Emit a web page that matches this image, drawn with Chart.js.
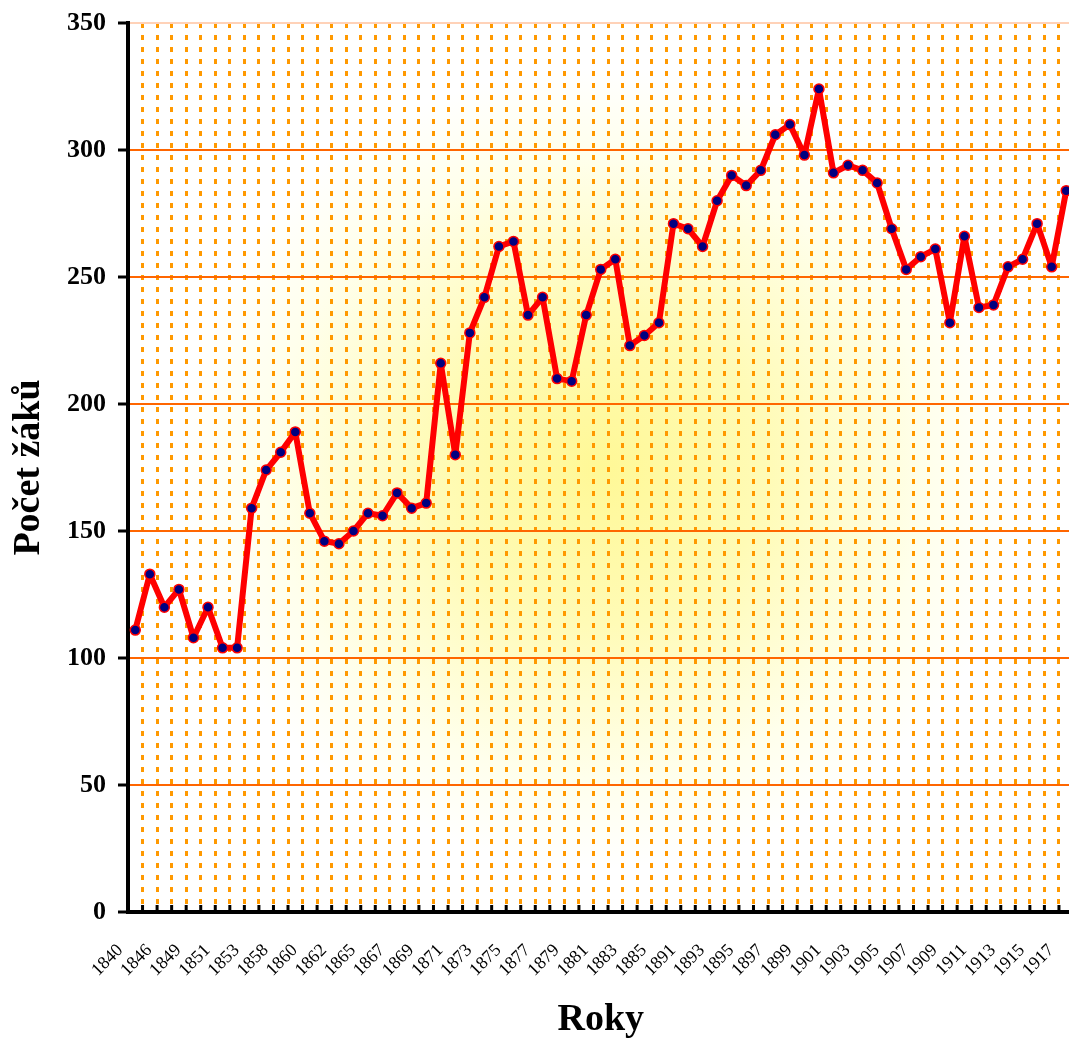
<!DOCTYPE html>
<html>
<head>
<meta charset="utf-8">
<script src="https://cdn.jsdelivr.net/npm/chart.js@4.4.1/dist/chart.umd.min.js"></script>
<style>
  html, body { margin: 0; padding: 0; background: #fff; overflow: hidden; }
  #wrap { width: 1069px; height: 1041px; overflow: hidden; }
</style>
</head>
<body>
<div id="wrap"><canvas id="chart" width="1080" height="1041"></canvas></div>
<script>
// school years (only every other one is labelled on the axis)
const years = [
  "1840", "1845", "1846", "1848", "1849", "1850", "1851", "1852", "1853", "1857",
  "1858", "1859", "1860", "1861", "1862", "1864", "1865", "1866", "1867", "1868",
  "1869", "1870", "1871", "1872", "1873", "1874", "1875", "1876", "1877", "1878",
  "1879", "1880", "1881", "1882", "1883", "1884", "1885", "1890", "1891", "1892",
  "1893", "1894", "1895", "1896", "1897", "1898", "1899", "1900", "1901", "1902",
  "1903", "1904", "1905", "1906", "1907", "1908", "1909", "1910", "1911", "1912",
  "1913", "1914", "1915", "1916", "1917",
];

// number of pupils
const pupils = [
  111, 133, 120, 127, 108, 120, 104, 104, 159, 174,
  181, 189, 157, 146, 145, 150, 157, 156, 165, 159,
  161, 216, 180, 228, 242, 262, 264, 235, 242, 210,
  209, 235, 253, 257, 223, 227, 232, 271, 269, 262,
  280, 290, 286, 292, 306, 310, 298, 324, 291, 294,
  292, 287, 269, 253, 258, 261, 232, 266, 238, 239,
  254, 257, 271, 254, 284,
];

const Y_MIN = 0;
const Y_MAX = 350;
const Y_STEP = 50;

const SERIF = "'Liberation Serif', 'Times New Roman', serif";

const plotBackground = {
  id: "plotBackground",
  beforeDraw(chart) {
    const { ctx, chartArea: a } = chart;
    ctx.save();
    ctx.beginPath();
    ctx.rect(a.left, a.top, a.width, a.height);
    ctx.clip();
    ctx.fillStyle = "#fff";
    ctx.fillRect(a.left, a.top, a.width, a.height);
    ctx.translate((a.left + a.right) / 2, (a.top + a.bottom) / 2);
    ctx.scale(a.width / 2, a.height / 2);
    const g = ctx.createRadialGradient(0, 0, 0, 0, 0, 1);
    g.addColorStop(0, "#FFF896");
    g.addColorStop(0.35, "#FFFBB6");
    g.addColorStop(0.7, "#FFFFEC");
    g.addColorStop(0.9, "#FFFFFF");
    ctx.fillStyle = g;
    ctx.fillRect(-1, -1, 2, 2);
    ctx.restore();
  },
};

// small black tick marks inside the plot, on the category boundaries
const innerTicks = {
  id: "innerTicks",
  afterDraw(chart) {
    const { ctx } = chart;
    const xs = chart.scales.x;
    const n = years.length;
    ctx.save();
    ctx.strokeStyle = "#000";
    ctx.lineWidth = 3;
    ctx.beginPath();
    for (let i = 0; i <= n; i++) {
      const px = xs.left + (i * xs.width) / n;
      ctx.moveTo(px, xs.top - 7);
      ctx.lineTo(px, xs.top);
    }
    ctx.stroke();
    ctx.restore();
  },
};

new Chart(document.getElementById("chart").getContext("2d"), {
  type: "line",
  data: {
    labels: years,
    datasets: [{
      label: "Počet žáků",
      data: pupils,
      borderColor: "#FF0000",
      borderWidth: 6,
      borderJoinStyle: "round",
      borderCapStyle: "round",
      tension: 0,
      fill: false,
      pointRadius: 5,
      pointBorderWidth: 1.5,
      pointBorderColor: "#FF0000",
      pointBackgroundColor: "#000080",
    }],
  },
  options: {
    responsive: false,
    animation: false,
    devicePixelRatio: 1,
    layout: { padding: { top: 23, right: 6, bottom: 0, left: 0 } },
    plugins: {
      legend: { display: false },
      tooltip: { enabled: false },
    },
    scales: {
      x: {
        offset: true,
        grid: {
          offset: true,
          color: "#FF9900",
          lineWidth: 3,
          drawTicks: false,
        },
        border: { display: true, color: "#000", width: 4, dash: [5, 7] },
        ticks: {
          autoSkip: false,
          minRotation: 45,
          maxRotation: 45,
          padding: 28,
          labelOffset: -15,
          color: "#000",
          font: { family: SERIF, size: 18 },
          callback(value, index) {
            return index % 2 === 0 ? years[index] : "";
          },
        },
        title: {
          display: true,
          text: "Roky",
          color: "#000",
          padding: 0,
          font: { family: SERIF, size: 38, weight: "bold", lineHeight: 1.1 },
        },
        afterFit(scale) {
          scale.height = 129;
          scale.paddingLeft = 0;
          scale.paddingRight = 0;
        },
      },
      y: {
        min: Y_MIN,
        max: Y_MAX,
        grid: {
          color: (ctx) => (ctx.tick && ctx.tick.value === Y_MAX ? "#FFD2B8" : "#FF6600"),
          lineWidth: 2,
          tickLength: 10,
          tickColor: "#000",
          tickWidth: 3,
        },
        border: { display: true, color: "#000", width: 4 },
        ticks: {
          stepSize: Y_STEP,
          padding: 12,
          color: "#000",
          font: { family: SERIF, size: 26, weight: "bold" },
        },
        title: {
          display: true,
          text: "Počet žáků",
          color: "#000",
          padding: { top: 8, bottom: 0 },
          font: { family: SERIF, size: 38, weight: "bold", lineHeight: 1.1 },
        },
        afterFit(scale) {
          scale.width = 128;
          scale.paddingTop = 0;
          scale.paddingBottom = 0;
        },
      },
    },
  },
  plugins: [plotBackground, innerTicks],
});
</script>
</body>
</html>
